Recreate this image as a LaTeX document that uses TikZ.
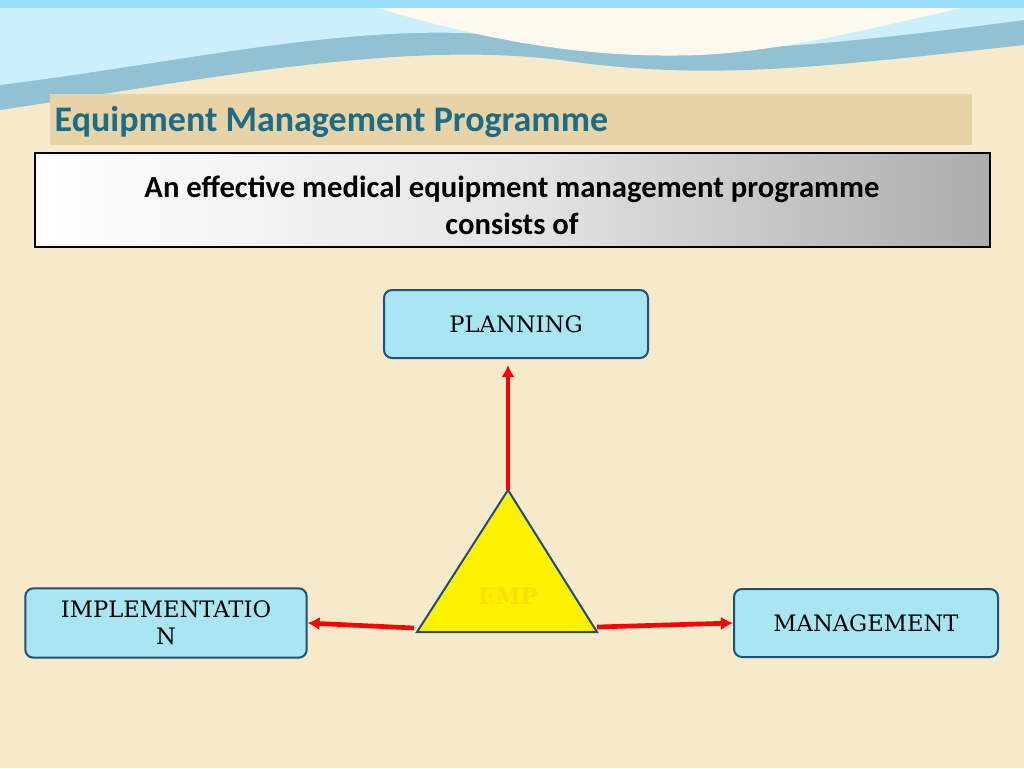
\documentclass[tikz,border=0pt]{standalone}
\usepackage{fontspec}
\setmainfont{DejaVu Serif}
\newfontfamily\carlitofont{Carlito}
\usetikzlibrary{arrows.meta}
\definecolor{bg}{HTML}{F7EACB}
\definecolor{boxfill}{HTML}{A8E6F4}
\definecolor{boxline}{HTML}{1F4E79}
\definecolor{titlec}{HTML}{1E6B86}
\definecolor{band}{HTML}{E6D3A8}
\tikzset{
 box/.style={draw=boxline,line width=1.5pt,fill=boxfill,rounded corners=6pt,inner sep=0pt,align=center,font=\fontsize{17}{20}\selectfont},
 arr/.style={draw=red,line width=3.5pt,-{Latex[length=9pt,width=10pt]}}
}
\begin{document}
\begin{tikzpicture}[x=0.75pt,y=-0.75pt]
\path[fill=bg] (0,0) rectangle (1024,768);
\useasboundingbox (0,0) rectangle (1024,768);
% top waves
\fill[color=cyan!30!teal!50] (0,0) -- (1024,0) -- (1024,45) .. controls (800,70) and (700,80) .. (560,60) .. controls (400,40) and (200,80) .. (0,110) -- cycle;
\fill[color=cyan!20] (0,0) -- (1024,0) -- (1024,20) .. controls (800,50) and (650,60) .. (540,40) .. controls (380,15) and (200,60) .. (0,85) -- cycle;
\fill[white!70!bg] (350,0) .. controls (450,30) and (560,60) .. (700,55) .. controls (800,50) and (900,20) .. (1000,0) -- cycle;
\fill[color=cyan!40] (0,0) rectangle (1024,8);
% title band
\fill[band] (50,94) rectangle (972,145);
\node[anchor=west,font=\carlitofont\bfseries\fontsize{27}{30}\selectfont,text=titlec] (title) at (50,122) {Equipment Management Programme};
% subtitle box
\shade[left color=white,right color=gray!65,middle color=gray!20] (35,153) rectangle (990,247);
\draw[black,line width=0.8pt] (35,153) rectangle (990,247);
\node[align=center,font=\carlitofont\bfseries\fontsize{23}{28}\selectfont] (sub) at (512,205) {An effective medical equipment management programme\\consists of};
% boxes
\node[box,minimum width=198pt,minimum height=51pt] (plan) at (516,324) {PLANNING};
\node[box,minimum width=211pt,minimum height=52pt] (impl) at (166,623) {IMPLEMENTATIO\\N};
\node[box,minimum width=198pt,minimum height=51pt] (mgmt) at (866,623) {MANAGEMENT};
% triangle
\draw[boxline,line width=1.5pt,fill=yellow] (508,490) -- (597,632) -- (417,632) -- cycle;
\coordinate (apex) at (508,490);
\coordinate (bl) at (414,628);
\coordinate (br) at (597,627);
\node[font=\bfseries\fontsize{17}{20}\selectfont,text=yellow!80!orange] (emp) at (508,596) {EMP};
\draw[arr] (apex) -- (508,365);
\draw[arr] (bl) -- (impl.east);
\draw[arr] (br) -- (mgmt.west);
\end{tikzpicture}
\end{document}
